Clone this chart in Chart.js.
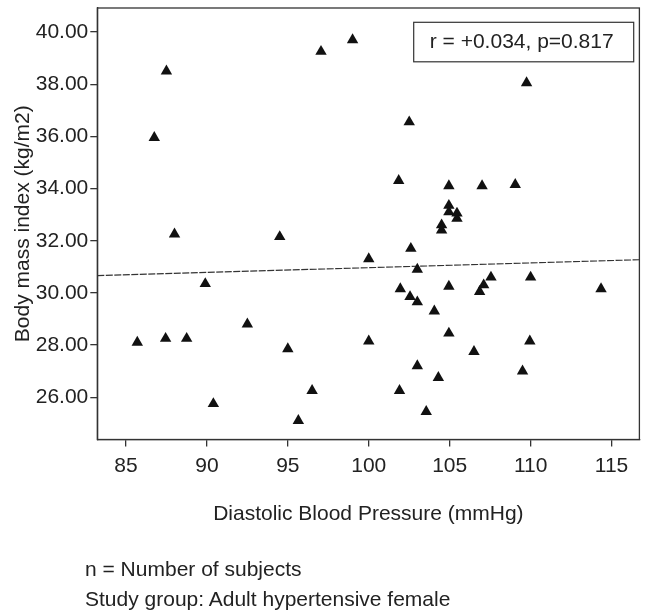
<!DOCTYPE html>
<html lang="en">
<head>
  <meta charset="UTF-8">
  <title>BMI vs Diastolic Blood Pressure</title>
  <script src="https://cdn.jsdelivr.net/npm/chart.js"></script>
  <style>
    html, body {
      margin: 0; padding: 0;
      width: 646px; height: 610px;
      background: #fff; overflow: hidden;
      font-family: "Liberation Sans", Arial, sans-serif;
    }
    .wrap { position: relative; width: 646px; height: 610px; }
    canvas { position: absolute; left: 0; top: 0; }
    .note {
      position: absolute; left: 85px; top: 554px;
      font-size: 21px; line-height: 30px; color: #222;
    }
  </style>
</head>
<body>
  <div class="wrap">
    <canvas id="chartBmi" width="646" height="610"></canvas>
    <div class="note">
      n = Number of subjects<br>
      Study group: Adult hypertensive female
    </div>
  </div>

  <script>
    // data
    const dbp = [85.7, 86.75, 87.5, 87.45, 88.0, 88.75, 89.9, 90.4, 92.5, 94.5,
                 95.0, 95.65, 96.5, 97.05, 99.0, 100.0, 100.0, 101.85, 101.95, 101.9,
                 102.5, 102.6, 103.0, 102.55, 103.0, 103.0, 103.55, 104.05, 104.3, 104.5,
                 104.5, 104.95, 104.95, 104.95, 105.45, 105.45, 104.95, 104.95, 106.5, 106.85,
                 107.1, 107.0, 107.55, 109.05, 109.5, 109.75, 110.0, 109.95, 114.35];
    const bmi = [28.1, 35.95, 38.5, 28.25, 32.25, 28.25, 30.35, 25.75, 28.8, 32.15,
                 27.85, 25.1, 26.25, 39.25, 39.7, 31.3, 28.15, 34.3, 30.15, 26.25,
                 36.55, 31.7, 30.9, 29.85, 29.65, 27.2, 25.45, 29.3, 26.75, 32.6,
                 32.4, 34.1, 33.35, 33.1, 33.05, 32.85, 30.25, 28.45, 27.75, 30.05,
                 30.3, 34.1, 30.6, 34.15, 27.0, 38.05, 30.6, 28.15, 30.15];

    // fitted line, end points read at the plot edges
    const fitX = [83.23, 116.72];
    const fitY = [30.66, 31.27];

    const xTicks = [85, 90, 95, 100, 105, 110, 115];
    const yTicks = [26, 28, 30, 32, 34, 36, 38, 40];
    const statText = 'r = +0.034, p=0.817';

    const ink = '#222';
    const fontFam = '"Liberation Sans", Arial, sans-serif';

    // frame round the plot plus the r/p box
    const framePlugin = {
      id: 'frame',
      afterDatasetsDraw(chart) {
        const { ctx, chartArea: a } = chart;
        ctx.save();
        ctx.strokeStyle = '#333';
        ctx.lineWidth = 1.3;
        ctx.strokeRect(a.left, a.top, a.right - a.left, a.bottom - a.top);
        const bw = 220, bh = 39.5;
        const bx = a.right - 5.7 - bw, by = a.top + 14.3;
        ctx.lineWidth = 1.2;
        ctx.strokeRect(bx, by, bw, bh);
        ctx.fillStyle = ink;
        ctx.font = '21px ' + fontFam;
        ctx.textAlign = 'center';
        ctx.textBaseline = 'middle';
        ctx.fillText(statText, bx + bw / 2 - 2, by + bh / 2);
        ctx.restore();
      }
    };

    new Chart(document.getElementById('chartBmi'), {
      type: 'scatter',
      data: {
        datasets: [
          {
            label: 'Subjects',
            data: dbp.map((x, i) => ({ x: x, y: bmi[i] })),
            pointStyle: 'triangle',
            pointRadius: 6.6,
            pointBackgroundColor: '#111',
            pointBorderColor: '#111',
            pointBorderWidth: 0
          },
          {
            label: 'Fit',
            type: 'line',
            data: fitX.map((x, i) => ({ x: x, y: fitY[i] })),
            borderColor: '#333',
            borderWidth: 1.2,
            borderDash: [7, 1.5],
            pointRadius: 0,
            fill: false
          }
        ]
      },
      options: {
        responsive: false,
        animation: false,
        layout: { padding: { top: 8, right: 6, left: 0, bottom: 83 } },
        plugins: {
          legend: { display: false },
          tooltip: { enabled: false }
        },
        scales: {
          x: {
            type: 'linear',
            min: fitX[0], max: fitX[1],
            afterBuildTicks: s => { s.ticks = xTicks.map(v => ({ value: v })); },
            afterFit: s => { s.height = 87.5; s.paddingLeft = 0; s.paddingRight = 0; },
            grid: { drawOnChartArea: false, drawTicks: true, tickLength: 7, color: '#333', lineWidth: 1.3 },
            border: { display: true, color: '#333', width: 1.3 },
            ticks: { color: ink, padding: 7, maxRotation: 0, font: { size: 21, family: fontFam } },
            title: {
              display: true, text: 'Diastolic Blood Pressure (mmHg)',
              color: ink, padding: 0, font: { size: 21, family: fontFam }
            }
          },
          y: {
            type: 'linear',
            min: 24.38, max: 40.92,
            afterBuildTicks: s => { s.ticks = yTicks.map(v => ({ value: v })); },
            afterFit: s => { s.width = 97.3; s.paddingTop = 0; s.paddingBottom = 0; },
            grid: { drawOnChartArea: false, drawTicks: true, tickLength: 7, color: '#333', lineWidth: 1.3 },
            border: { display: true, color: '#333', width: 1.3 },
            ticks: {
              color: ink, padding: 2,
              font: { size: 21, family: fontFam },
              callback: v => Number(v).toFixed(2)
            },
            title: {
              display: true, text: 'Body mass index (kg/m2)',
              color: ink, padding: { top: 10.5, bottom: 0 },
              font: { size: 21, family: fontFam }
            }
          }
        }
      },
      plugins: [framePlugin]
    });
  </script>
</body>
</html>
